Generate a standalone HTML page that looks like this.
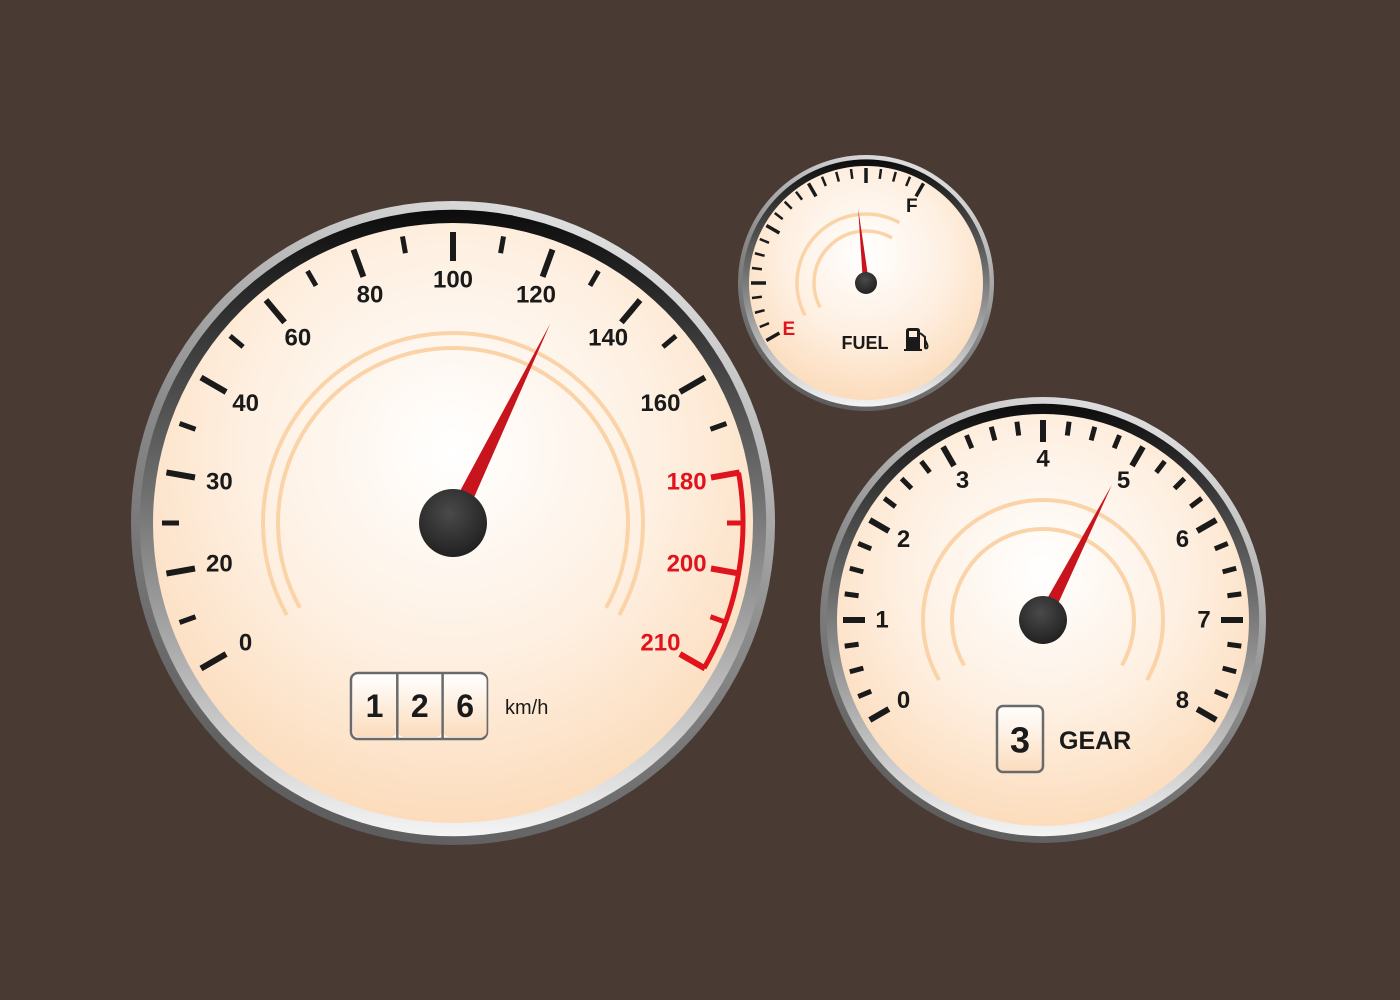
<!DOCTYPE html>
<html><head><meta charset="utf-8"><style>
html,body{margin:0;padding:0;background:#4a3a34;}
svg{display:block;font-family:"Liberation Sans",sans-serif;}
</style></head><body>
<svg id="dash" width="1400" height="1000" viewBox="0 0 1400 1000" xmlns="http://www.w3.org/2000/svg">
<defs>
<linearGradient id="rimA" x1="0.7" y1="0" x2="0.3" y2="1"><stop offset="0" stop-color="#e4e4e4"/><stop offset="0.5" stop-color="#8a8a8a"/><stop offset="1" stop-color="#5a5a5a"/></linearGradient>
<linearGradient id="rimB" x1="0.5" y1="0" x2="0.5" y2="1"><stop offset="0" stop-color="#0c0c0c"/><stop offset="0.45" stop-color="#6f6f6f"/><stop offset="1" stop-color="#f4f4f4"/></linearGradient>
<radialGradient id="face" cx="0.5" cy="0.38" r="0.62"><stop offset="0" stop-color="#ffffff"/><stop offset="0.55" stop-color="#fef0e2"/><stop offset="1" stop-color="#fcdcbc"/></radialGradient>
<radialGradient id="hub" cx="0.45" cy="0.35" r="0.7"><stop offset="0" stop-color="#4a4a4a"/><stop offset="1" stop-color="#1e1e1e"/></radialGradient>
<linearGradient id="cell" x1="0" y1="0" x2="0" y2="1"><stop offset="0" stop-color="#ffffff"/><stop offset="1" stop-color="#fcdcbc"/></linearGradient>
</defs>
</svg>
<script>
// ---- data ----
const speedLabels = [0,20,30,40,60,80,100,120,140,160,180,200,210];
const speedAngles = [210,190,170,150,130,110,90,70,50,30,10,-10,-30];
const speedValue = 126;
const speedDigits = ["1","2","6"];
const gearLabels = [0,1,2,3,4,5,6,7,8];
const gearValue = 4.9;
const gearCurrent = "3";
const fuelValue = 0.76;
const fuelLabels = ["E","F"];

const NS = "http://www.w3.org/2000/svg";
const svg = document.getElementById('dash');
function mk(tag, attrs, parent){
  const e = document.createElementNS(NS, tag);
  for (const k in attrs) e.setAttribute(k, attrs[k]);
  (parent||svg).appendChild(e);
  return e;
}
function pt(cx,cy,r,a){const t=a*Math.PI/180;return [cx+r*Math.cos(t), cy-r*Math.sin(t)];}
function arcPath(cx,cy,r,a0,a1){
  const p0=pt(cx,cy,r,a0), p1=pt(cx,cy,r,a1);
  const large = Math.abs(a0-a1)>180?1:0;
  return `M${p0[0]},${p0[1]} A${r},${r} 0 ${large} 1 ${p1[0]},${p1[1]}`;
}
function speedScale(v){
  for(let i=0;i<speedLabels.length-1;i++){
    if(v<=speedLabels[i+1]){const f=(v-speedLabels[i])/(speedLabels[i+1]-speedLabels[i]);return speedAngles[i]+f*(speedAngles[i+1]-speedAngles[i]);}
  }
  return speedAngles[speedAngles.length-1];
}
function gearScale(v){return 210 - v*30;}
function fuelScale(f){return 210 - f*150;}

function gaugeBody(g,cx,cy,R,faceR){
  const o = mk('circle',{cx,cy,r:R,fill:'url(#rimA)'},g);
  
  
  const b = mk('circle',{cx,cy,r:R-(R-faceR)*0.4,fill:'url(#rimB)'},g);
  
  
  const f = mk('circle',{cx,cy,r:faceR,fill:'url(#face)'},g);
  
  
}
function tick(g,cx,cy,a,r0,r1,w,col,name){
  const p0=pt(cx,cy,r0,a),p1=pt(cx,cy,r1,a);
  const l = mk('line',{x1:p0[0],y1:p0[1],x2:p1[0],y2:p1[1],stroke:col,'stroke-width':w},g);
  
  
}
function label(g,x,y,txt,size,col,name,anchor){
  const t = mk('text',{x,y,'font-size':size,'font-weight':'bold',fill:col,'text-anchor':anchor||'middle','dominant-baseline':'central'},g);
  t.textContent = txt;
  
  
  return t;
}
function needle(g,cx,cy,a,len,w,name){
  const tip=pt(cx,cy,len,a), l=pt(cx,cy,w,a+90), r=pt(cx,cy,w,a-90);
  const p = mk('polygon',{points:`${tip[0]},${tip[1]} ${l[0]},${l[1]} ${r[0]},${r[1]}`,fill:'#c8141c'},g);
  
  
}
function hub(g,cx,cy,r,name){
  const c = mk('circle',{cx,cy,r,fill:'url(#hub)'},g);
  
  
}
function decoArc(g,cx,cy,r,a0,a1,w){
  const p = mk('path',{d:arcPath(cx,cy,r,a0,a1),fill:'none',stroke:'#fbd3a8','stroke-width':w},g);
  
  
}

// ---- speedometer ----
{
  const cx=453, cy=523;
  const g = mk('g',{});
  
  
  gaugeBody(g,cx,cy,322,300);
  decoArc(g,cx,cy,190,209,-29,4);
  decoArc(g,cx,cy,175,209,-29,4);
  const ra = mk('path',{d:arcPath(cx,cy,290,speedScale(180),speedScale(210)),fill:'none',stroke:'#e0141c','stroke-width':5},g);
  
  
  speedLabels.forEach((v,i)=>{
    const a=speedScale(v), red=v>=180;
    tick(g,cx,cy,a,262,291,6,red?'#e0141c':'#1a1a1a','major-tick');
    const rr = 236 + 7*Math.abs(Math.sin(a*Math.PI/180));
    const p=pt(cx,cy,rr,a);
    label(g,p[0],p[1],String(v),24,red?'#e0141c':'#1a1a1a','speed-label-'+v);
    if(i<speedLabels.length-1){
      const m=(v+speedLabels[i+1])/2, am=speedScale(m);
      tick(g,cx,cy,am,274,291,5,m>=180?'#e0141c':'#1a1a1a','minor-tick');
    }
  });
  needle(g,cx,cy,speedScale(speedValue),222,9,'speed-needle');
  hub(g,cx,cy,34,'speed-hub');
  const ob = mk('rect',{x:351,y:673,width:136,height:66,rx:7,fill:'#fff',stroke:'#6a6a6a','stroke-width':2.5},g);
  
  
  speedDigits.forEach((d,i)=>{
    const x=352+i*45.3;
    const c = mk('rect',{x:x+1,y:675,width:43,height:62,rx:5,fill:'url(#cell)'},g);
    
    
    if(i>0){const s=mk('line',{x1:x,y1:674,x2:x,y2:738,stroke:'#6a6a6a','stroke-width':2.5},g);
      
      }
    label(g,x+22.5,706,d,32,'#1a1a1a','odometer-digit');
  });
  const u = label(g,505,708,'km/h',20,'#1a1a1a','speed-unit','start');
  u.setAttribute('font-weight','normal');
}

// ---- fuel gauge ----
{
  const cx=866, cy=283;
  const g = mk('g',{});
  
  
  gaugeBody(g,cx,cy,128,117);
  decoArc(g,cx,cy,69,208,61,3.5);
  decoArc(g,cx,cy,52,208,60,3.5);
  for(let i=0;i<=20;i++){
    const a=210-i*7.5, major=i%4===0;
    tick(g,cx,cy,a,major?100:105,115,major?3.5:2.5,'#1a1a1a',major?'fuel-major-tick':'fuel-minor-tick');
  }
  const pe=pt(cx,cy,90,fuelScale(0)+1), pf=pt(cx,cy,89,fuelScale(1)-1);
  label(g,pe[0],pe[1],fuelLabels[0],19,'#e0141c','fuel-empty-label');
  label(g,pf[0],pf[1],fuelLabels[1],19,'#1a1a1a','fuel-full-label');
  label(g,865,343,'FUEL',18,'#1a1a1a','fuel-title');
  const ic = mk('g',{transform:'translate(905,328)'},g);
  
  
  mk('path',{d:'M1,3 Q1,0 4,0 H12 Q15,0 15,3 V21 H17 V23 H-1 V21 H1 Z M4,3 V9 H12 V3 Z',fill:'#1a1a1a','fill-rule':'evenodd'},ic);
  mk('path',{d:'M15,5 L20,9 V19 Q20,21 22,20 Q23,19 22,16 L20,12',fill:'none',stroke:'#1a1a1a','stroke-width':2},ic);
  needle(g,cx,cy,fuelScale(fuelValue),75,3,'fuel-needle');
  hub(g,cx,cy,11,'fuel-hub');
}

// ---- gear / rpm gauge ----
{
  const cx=1043, cy=620;
  const g = mk('g',{});
  
  
  gaugeBody(g,cx,cy,223,206);
  decoArc(g,cx,cy,120,210,-30,4);
  decoArc(g,cx,cy,91,210,-30,4);
  gearLabels.forEach((v,i)=>{
    const a=gearScale(v);
    tick(g,cx,cy,a,178,200,6,'#1a1a1a','gear-major-tick');
    const p=pt(cx,cy,161,a);
    label(g,p[0],p[1],String(v),24,'#1a1a1a','gear-label-'+v);
    if(i<gearLabels.length-1){
      for(let k=1;k<4;k++) tick(g,cx,cy,gearScale(v+k/4),186,200,5,'#1a1a1a','gear-minor-tick');
    }
  });
  needle(g,cx,cy,gearScale(gearValue),152,7,'gear-needle');
  hub(g,cx,cy,24,'gear-hub');
  const gb = mk('rect',{x:997,y:706,width:46,height:66,rx:6,fill:'url(#cell)',stroke:'#6a6a6a','stroke-width':2.5},g);
  
  
  label(g,1020,740,gearCurrent,36,'#1a1a1a','gear-indicator-digit');
  label(g,1059,741,'GEAR',25,'#1a1a1a','gear-title','start');
}
</script>
</body></html>
